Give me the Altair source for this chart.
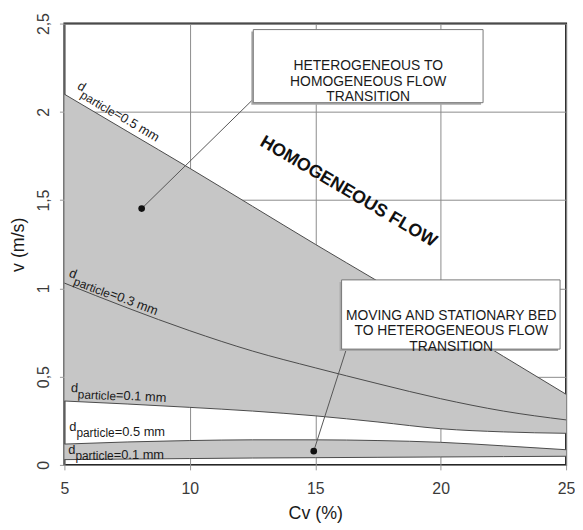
import altair as alt
import pandas as pd

# ---------------- data ----------------
cv = [5, 7.5, 10, 12.5, 15, 17.5, 20, 22.5, 25]
v_upper_05 = [2.10, 1.89, 1.68, 1.465, 1.25, 1.04, 0.83, 0.615, 0.40]
v_mid_03 = [1.03, 0.89, 0.76, 0.645, 0.55, 0.46, 0.375, 0.305, 0.255]
v_lower_01 = [0.362, 0.345, 0.326, 0.305, 0.278, 0.243, 0.205, 0.187, 0.179]
v_bed_05 = [0.118, 0.130, 0.138, 0.142, 0.142, 0.138, 0.128, 0.108, 0.086]
v_bed_01 = [0.030, 0.033, 0.036, 0.039, 0.041, 0.043, 0.045, 0.047, 0.049]

x_ticks = [5, 10, 15, 20, 25]
y_ticks = [0, 0.5, 1, 1.5, 2, 2.5]

label_text = ["=0.5 mm", "=0.3 mm", "=0.1 mm", "=0.5 mm", "=0.1 mm"]
label_cv = [5.48, 5.15, 5.25, 5.19, 5.15]
label_v = [2.133, 1.068, 0.413, 0.194, 0.062]
label_angle = [31, 21, 3, 0, 0]

flow_text = ["HOMOGENEOUS FLOW"]
flow_cv = [16.32]
flow_v = [1.547]
flow_angle = [30.5]

box_text = ["HETEROGENEOUS TO\nHOMOGENEOUS FLOW\nTRANSITION",
            "MOVING AND STATIONARY BED\nTO HETEROGENEOUS FLOW\nTRANSITION"]
box_cv1 = [12.53, 16.05]
box_cv2 = [21.69, 24.76]
box_v1 = [2.466, 1.048]
box_v2 = [2.052, 0.656]
box_text_cv = [17.11, 20.42]
box_text_v = [2.261, 0.846]

dot_cv = [8.08, 14.94]
dot_v = [1.452, 0.078]
leader_cv = [12.53, 16.24]
leader_v = [2.072, 0.656]

FONT = "Liberation Sans"

curves = pd.DataFrame({"cv": cv, "up05": v_upper_05, "mid03": v_mid_03,
                       "low01": v_lower_01, "bed05": v_bed_05, "bed01": v_bed_01})
labels = pd.DataFrame({"cv": label_cv, "v": label_v, "txt": label_text, "ang": label_angle})
flow = pd.DataFrame({"cv": flow_cv, "v": flow_v, "txt": flow_text, "ang": flow_angle})
boxes = pd.DataFrame({"x1": box_cv1, "x2": box_cv2, "y1": box_v1, "y2": box_v2,
                      "tx": box_text_cv, "ty": box_text_v, "txt": box_text})
leaders = pd.DataFrame({"x1": dot_cv, "y1": dot_v, "x2": leader_cv, "y2": leader_v})

xscale = alt.Scale(domain=[5, 25], nice=False, zero=False)
yscale = alt.Scale(domain=[0, 2.5], nice=False, zero=False)
xaxis = alt.Axis(values=x_ticks, title="Cv (%)", grid=True, domain=False,
                 labelFlush=False, labelOverlap=False, tickSize=5, labelPadding=11,
                 titlePadding=8)
yaxis = alt.Axis(values=y_ticks, title="v (m/s)", grid=True, domain=False,
                 labelFlush=False, labelOverlap=False, labelAngle=270,
                 labelAlign="center", labelBaseline="alphabetic",
                 tickSize=5, labelPadding=11, titlePadding=8,
                 labelExpr="replace(format(datum.value, '~g'), '.', ',')")


def X(f):
    return alt.X(f"{f}:Q", scale=xscale, axis=xaxis)


def Y(f):
    return alt.Y(f"{f}:Q", scale=yscale, axis=yaxis)


GRAY = "#c6c6c6"
LINE = "#4a4a4a"

big_band = alt.Chart(curves).mark_area(color=GRAY, interpolate="monotone", opacity=1).encode(
    x=X("cv"), y=Y("up05"), y2="low01")
bed_band = alt.Chart(curves).mark_area(color=GRAY, interpolate="monotone", opacity=1).encode(
    x=X("cv"), y=Y("bed05"), y2="bed01")

line_layers = []
for col in ["up05", "mid03", "low01", "bed05", "bed01"]:
    line_layers.append(
        alt.Chart(curves).mark_line(color=LINE, strokeWidth=1, interpolate="monotone").encode(
            x=X("cv"), y=Y(col)))

leader = alt.Chart(leaders).mark_rule(color="#555555", strokeWidth=1).encode(
    x=X("x1"), y=Y("y1"), x2="x2", y2="y2")
dots = alt.Chart(leaders).mark_point(filled=True, color="#111111", size=45, opacity=1).encode(
    x=X("x1"), y=Y("y1"))

shadow = alt.Chart(boxes).mark_rect(fill="#a8a8a8", xOffset=-2, x2Offset=-2, yOffset=2, y2Offset=2).encode(
    x=X("x1"), x2="x2", y=Y("y1"), y2="y2")
rects = alt.Chart(boxes).mark_rect(fill="white", stroke="#777777", strokeWidth=1).encode(
    x=X("x1"), x2="x2", y=Y("y1"), y2="y2")
box_txt = alt.Chart(boxes).mark_text(font=FONT, fontSize=14, lineBreak="\n", lineHeight=16,
                                     align="center", baseline="middle", color="#1a1a1a").encode(
    x=X("tx"), y=Y("ty"), text="txt:N")

lab_d = alt.Chart(labels).mark_text(font=FONT, fontSize=13, align="left", baseline="alphabetic",
                                    color="#1a1a1a", text="d").encode(
    x=X("cv"), y=Y("v"), angle=alt.Angle("ang:Q", scale=None))
lab_sub = alt.Chart(labels).mark_text(font=FONT, fontSize=12, align="left", baseline="alphabetic",
                                      color="#1a1a1a", text="particle", dx=7.3, dy=6).encode(
    x=X("cv"), y=Y("v"), angle=alt.Angle("ang:Q", scale=None))
lab_rest = alt.Chart(labels).mark_text(font=FONT, fontSize=13, align="left", baseline="alphabetic",
                                       color="#1a1a1a", dx=46, dy=5).encode(
    x=X("cv"), y=Y("v"), angle=alt.Angle("ang:Q", scale=None), text="txt:N")

flow_lab = alt.Chart(flow).mark_text(font=FONT, fontSize=18, fontWeight="bold", align="center",
                                     baseline="middle", color="#111111").encode(
    x=X("cv"), y=Y("v"), angle=alt.Angle("ang:Q", scale=None), text="txt:N")

chart = alt.layer(
    big_band, bed_band, *line_layers, leader, dots, shadow, rects, box_txt,
    lab_d, lab_sub, lab_rest, flow_lab
).properties(
    width=507, height=446,
    autosize=alt.AutoSizeParams(type="none"),
    padding={"left": 57, "top": 13, "right": 9, "bottom": 60},
).configure_view(
    stroke="#1a1a1a", strokeWidth=2
).configure_axis(
    gridColor="#8c8c8c", gridWidth=1, gridOpacity=1,
    tickColor="#9a9a9a", tickWidth=1,
    labelFont=FONT, labelFontSize=16, labelColor="#3a3a3a",
    titleFont=FONT, titleFontSize=18, titleColor="#1a1a1a", titleFontWeight="normal",
)

chart.save("out.html", embed_options={"renderer": "svg", "actions": False})
